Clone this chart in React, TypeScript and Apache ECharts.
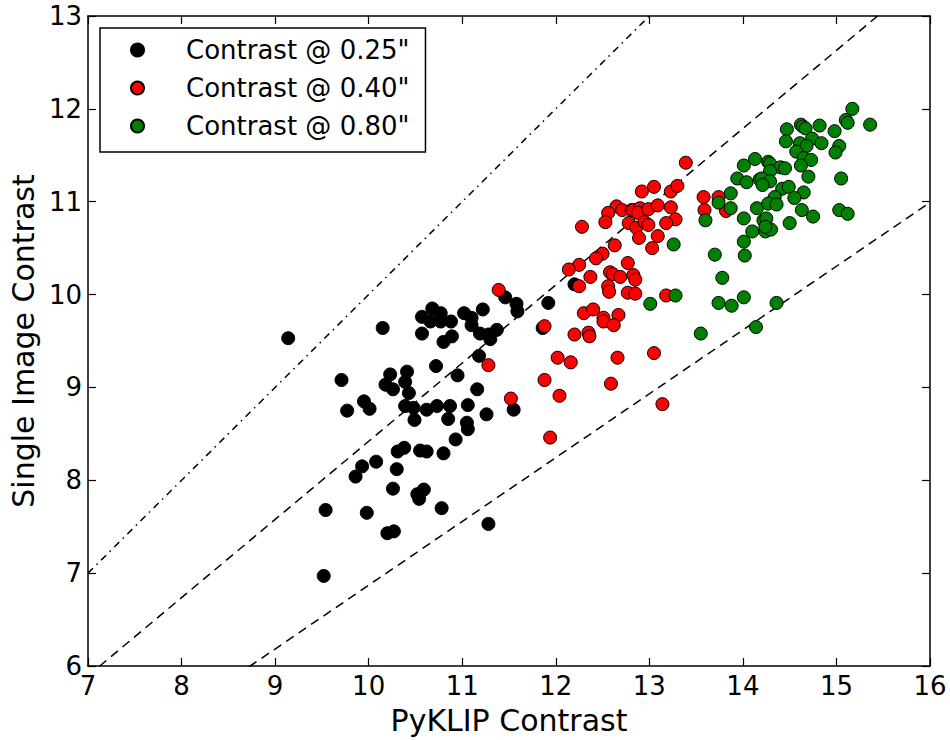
import React, { useEffect, useRef } from "react";
import * as echarts from "echarts";

// PyKLIP contrast (x) vs single-image contrast (y) at three separations
const contrast025: number[][] = [
  [9.14, 9.53], [10.15, 9.64], [9.71, 9.08], [10.23, 9.14], [10.18, 9.03], [10.26, 8.98],
  [10.39, 9.06], [9.95, 8.85], [10.01, 8.77], [9.77, 8.75], [10.39, 8.8],
  [10.31, 8.31], [10.38, 8.35], [9.93, 8.15], [10.08, 8.2], [9.86, 8.04], [10.3, 8.12],
  [10.26, 7.91], [9.54, 7.68], [9.98, 7.65], [10.2, 7.43], [10.27, 7.45], [9.52, 6.97],
  [11.46, 9.97], [11.58, 9.9], [11.59, 9.82], [10.57, 9.76], [10.68, 9.85], [10.66, 9.71],
  [10.77, 9.8], [10.77, 9.71], [10.88, 9.71], [11.02, 9.8], [11.1, 9.75], [11.22, 9.84],
  [11.1, 9.67], [11.19, 9.58], [11.28, 9.57], [11.37, 9.62], [11.3, 9.52], [10.57, 9.58],
  [10.89, 9.55], [10.8, 9.49], [11.18, 9.34], [10.72, 9.23], [10.95, 9.13], [10.41, 9.17],
  [11.16, 8.98], [11.55, 8.76], [10.43, 8.94], [10.48, 8.78], [10.62, 8.76],
  [10.73, 8.8], [10.87, 8.8], [11.06, 8.81], [11.26, 8.71],
  [10.49, 8.65], [10.85, 8.66], [11.05, 8.62], [11.06, 8.55], [10.55, 8.32], [10.62, 8.31],
  [10.8, 8.29], [10.93, 8.44], [10.52, 7.85], [10.59, 7.9], [10.54, 7.8], [10.78, 7.7],
  [11.28, 7.53], [11.92, 9.91], [12.2, 10.11], [11.86, 9.64],
];

const contrast040: number[][] = [
  [11.39, 10.05], [11.28, 9.24], [11.52, 8.88],
  [12.25, 10.09], [12.28, 10.73], [12.65, 10.95], [12.71, 10.91], [12.56, 10.88], [12.53, 10.78],
  [12.81, 10.91], [12.78, 10.77], [12.63, 10.53], [12.5, 10.44], [12.43, 10.39], [12.25, 10.32],
  [12.14, 10.27], [12.37, 10.19], [12.58, 10.24], [12.61, 10.22], [12.69, 10.19], [12.77, 10.34],
  [12.83, 10.21], [12.56, 10.09], [12.57, 10.03], [12.77, 10.02], [12.85, 10.16], [12.3, 9.8],
  [12.4, 9.84], [12.51, 9.75], [12.67, 9.78],
  [11.88, 9.66], [12.51, 9.71], [12.62, 9.67], [12.2, 9.57], [12.35, 9.59], [12.36, 9.55],
  [12.02, 9.32], [12.16, 9.27], [12.66, 9.32], [11.88, 9.08], [12.59, 9.04], [12.04, 8.91],
  [11.94, 8.46],
  [13.39, 11.42], [13.05, 11.16], [12.92, 11.11], [13.23, 11.11], [13.3, 11.17], [12.83, 10.91],
  [12.9, 10.93], [12.88, 10.88], [12.99, 10.92], [13.09, 10.96], [13.23, 10.94], [13.28, 10.81],
  [13.18, 10.77], [12.86, 10.72], [12.95, 10.78], [12.99, 10.75], [12.89, 10.61], [13.09, 10.63],
  [13.03, 10.5], [13.58, 11.05], [13.59, 10.91], [12.85, 10.01], [13.18, 9.99], [13.05, 9.37],
  [13.14, 8.82], [13.74, 11.05], [13.82, 10.9],
];

const contrast080: number[][] = [
  [13.26, 10.54], [13.6, 10.8], [13.7, 10.43], [13.28, 9.99], [13.01, 9.9], [13.74, 9.91],
  [13.55, 9.58],
  [13.74, 10.99], [13.87, 11.09], [13.87, 10.93], [13.78, 10.18], [14.01, 10.82], [14.01, 10.57],
  [14.02, 10.42], [13.94, 11.25], [14.04, 11.21], [14.01, 11.39], [14.13, 11.46], [14.15, 10.93],
  [14.22, 10.8], [14.25, 10.82], [14.1, 10.68], [14.24, 10.68], [14.3, 10.7], [14.18, 11.24],
  [13.88, 9.88], [14.01, 9.97], [14.36, 9.91], [14.14, 9.65],
  [15.17, 12.0], [15.36, 11.83], [15.1, 11.88], [15.12, 11.85], [14.82, 11.82], [14.98, 11.76],
  [14.62, 11.83], [14.64, 11.81], [14.67, 11.79], [14.47, 11.78], [14.74, 11.68], [14.46, 11.65],
  [14.61, 11.63], [14.84, 11.63], [15.03, 11.6], [14.68, 11.6], [14.99, 11.53], [14.57, 11.54],
  [14.65, 11.47], [14.73, 11.45], [14.62, 11.39], [14.7, 11.27], [15.05, 11.25], [14.27, 11.43],
  [14.29, 11.41], [14.4, 11.37], [14.45, 11.36], [14.29, 11.33], [14.2, 11.25], [14.29, 11.22],
  [14.21, 11.18], [14.42, 11.14], [14.49, 11.16], [14.65, 11.1], [14.34, 11.05], [14.55, 11.04],
  [14.27, 10.98], [14.36, 10.97], [14.63, 10.91], [14.75, 10.84], [15.03, 10.91], [15.12, 10.87],
  [14.5, 10.77], [14.24, 10.73],
];

// Reference lines y = k * x
const refSlopes = { unity: 1.0, upper: 0.842, lower: 0.687 };

const X_MIN = 7;
const X_MAX = 16;
const Y_MIN = 6;
const Y_MAX = 13;

const FONT = "DejaVu Sans";

function refLine(k: number) {
  return [
    [X_MIN, X_MIN * k],
    [X_MAX, X_MAX * k],
  ];
}

export default function App() {
  const ref = useRef<HTMLDivElement>(null);

  useEffect(() => {
    if (!ref.current) return;
    const chart = echarts.init(ref.current, undefined, { renderer: "svg" });

    const axisCommon = {
      type: "value" as const,
      interval: 1,
      axisLine: { show: true, lineStyle: { color: "#000", width: 1.5 } },
      axisTick: { show: true, inside: true, length: 8, lineStyle: { color: "#000", width: 1.2 } },
      splitLine: { show: false },
    };

    const scatterStyle = (color: string, name: string, data: number[][]) => ({
      type: "scatter" as const,
      name,
      data,
      symbol: "circle",
      symbolSize: 13,
      itemStyle: { color, borderColor: "#000", borderWidth: 1, opacity: 1 },
      z: 3,
    });

    const lineStyle = (data: number[][], dash: number[]) => ({
      type: "line" as const,
      data,
      symbol: "none",
      clip: true,
      silent: true,
      lineStyle: { color: "#000", width: 1.5, type: dash },
      z: 2,
    });

    chart.setOption({
      animation: false,
      backgroundColor: "#fff",
      textStyle: { fontFamily: FONT },
      grid: { left: 87, right: 20, top: 16, bottom: 73, containLabel: false },
      xAxis: [
        {
          ...axisCommon,
          min: X_MIN,
          max: X_MAX,
          position: "bottom",
          axisLabel: { color: "#000", fontSize: 26, fontFamily: FONT, margin: 7 },
          name: "PyKLIP Contrast",
          nameLocation: "middle",
          nameGap: 39,
          nameTextStyle: { color: "#000", fontSize: 30, fontFamily: FONT },
        },
        {
          ...axisCommon,
          min: X_MIN,
          max: X_MAX,
          position: "top",
          axisLabel: { show: false },
        },
      ],
      yAxis: [
        {
          ...axisCommon,
          min: Y_MIN,
          max: Y_MAX,
          position: "left",
          axisLabel: { color: "#000", fontSize: 26, fontFamily: FONT, margin: 6 },
          name: "Single Image Contrast",
          nameLocation: "middle",
          nameGap: 47,
          nameTextStyle: { color: "#000", fontSize: 30, fontFamily: FONT },
        },
        {
          ...axisCommon,
          min: Y_MIN,
          max: Y_MAX,
          position: "right",
          axisLabel: { show: false },
        },
      ],
      legend: {
        orient: "vertical",
        left: 100,
        top: 28,
        padding: [7, 16, 11, 30],
        itemGap: 8,
        itemWidth: 13,
        itemHeight: 13,
        icon: "circle",
        borderColor: "#000",
        borderWidth: 1.5,
        backgroundColor: "#fff",
        textStyle: {
          color: "#000",
          fontSize: 26,
          fontFamily: FONT,
          lineHeight: 30,
          padding: [0, 0, 0, 37],
        },
        data: ['Contrast @ 0.25"', 'Contrast @ 0.40"', 'Contrast @ 0.80"'],
      },
      series: [
        lineStyle(refLine(refSlopes.unity), [7, 5, 1.5, 5]),
        lineStyle(refLine(refSlopes.upper), [9, 6]),
        lineStyle(refLine(refSlopes.lower), [9, 6]),
        scatterStyle("#000000", 'Contrast @ 0.25"', contrast025),
        scatterStyle("#ff0000", 'Contrast @ 0.40"', contrast040),
        scatterStyle("#008000", 'Contrast @ 0.80"', contrast080),
      ],
    });

    return () => chart.dispose();
  }, []);

  return (
    <div
      ref={ref}
      style={{ position: "absolute", left: 0, top: 0, width: 950, height: 740 }}
    />
  );
}
